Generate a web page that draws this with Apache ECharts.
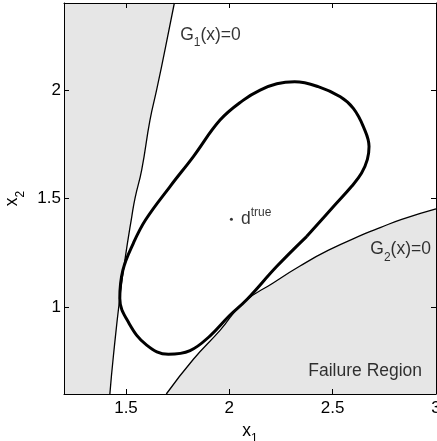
<!DOCTYPE html>
<html>
<head>
<meta charset="utf-8">
<title>Limit states and contour</title>
<script src="https://cdn.jsdelivr.net/npm/echarts@6/dist/echarts.min.js"></script>
<style>
  html, body { margin: 0; padding: 0; background: #fff; }
  #chart { width: 437px; height: 441px; }
</style>
</head>
<body>
<div id="chart"></div>
<script>
// axis ranges and tick positions
var xRange = [1.2, 3]
var yRange = [0.6, 2.4]
var xTicks = [1.5, 2, 2.5, 3]
var yTicks = [1, 1.5, 2]

// G1(x)=0, bottom to top
var g1Curve = [
  [1.422, 0.6], [1.439, 0.775], [1.471, 1.051], [1.495, 1.219],
  [1.528, 1.417], [1.544, 1.503], [1.576, 1.632], [1.616, 1.861],
  [1.649, 2.003], [1.692, 2.2], [1.734, 2.4]
]

// G2(x)=0, left to right
var g2Curve = [
  [1.695, 0.6], [1.826, 0.76], [1.955, 0.893], [2.07, 1.022],
  [2.21, 1.11], [2.34, 1.188], [2.48, 1.262], [2.656, 1.338],
  [2.73, 1.366], [2.834, 1.404], [3.0, 1.452]
]

// closed contour, clockwise
var contour = [
  [2.375, 1.326], [2.23, 1.188], [2.085, 1.035], [2.0, 0.96],
  [1.907, 0.868], [1.81, 0.8], [1.705, 0.783], [1.6, 0.825],
  [1.515, 0.925], [1.47, 1.04], [1.485, 1.17], [1.536, 1.295],
  [1.595, 1.402], [1.713, 1.555], [1.826, 1.693], [1.955, 1.861],
  [2.068, 1.953], [2.149, 1.999], [2.23, 2.028], [2.316, 2.037],
  [2.43, 2.015], [2.537, 1.968], [2.6, 1.915], [2.649, 1.83],
  [2.676, 1.739], [2.668, 1.68], [2.64, 1.617], [2.591, 1.555],
  [2.504, 1.463], [2.375, 1.326]
]

var dTrue = [2.01, 1.405]

// text annotations: x, y, text
var notes = [
  [1.762, 2.252, '{m|G}{s|1}{m|(x)=0}'],
  [2.682, 1.265, '{m|G}{s|2}{m|(x)=0}'],
  [2.382, 0.705, '{m|Failure Region}']
]

var font = 'Liberation Sans, Arial, Helvetica, sans-serif'
var fillGray = '#e6e6e6'

var rich = {
  m: { fontSize: 17.5, lineHeight: 28, color: '#000', fontFamily: font },
  s: { fontSize: 12, lineHeight: 12, verticalAlign: 'bottom', color: '#000', fontFamily: font },
  sup: { fontSize: 12, lineHeight: 12, verticalAlign: 'top', color: '#000', fontFamily: font },
  d: { fontSize: 17.5, lineHeight: 24, color: '#000', fontFamily: font }
}

// polygons for the shaded failure domains
var g1Area = g1Curve.concat([[xRange[0], yRange[1]], [xRange[0], yRange[0]]])
var g2Area = g2Curve.concat([[xRange[1], yRange[0]]])

function areaSeries (poly) {
  return {
    type: 'custom',
    z: 1,
    silent: true,
    data: [[xRange[0], yRange[0]]],
    renderItem: function (params, api) {
      return {
        type: 'polygon',
        shape: { points: poly.map(function (p) { return api.coord(p) }) },
        style: { fill: fillGray, stroke: null }
      }
    }
  }
}

function xAxisBase (pos) {
  return {
    type: 'value',
    position: pos,
    min: xRange[0],
    max: xRange[1],
    z: 10,
    splitLine: { show: false },
    axisLine: { onZero: false, lineStyle: { color: '#000', width: 1 } },
    axisTick: { inside: true, length: 5, customValues: xTicks, lineStyle: { color: '#000' } },
    axisLabel: { show: pos === 'bottom', customValues: xTicks, color: '#000', fontSize: 17, fontFamily: font, margin: 6 }
  }
}

function yAxisBase (pos) {
  return {
    type: 'value',
    position: pos,
    min: yRange[0],
    max: yRange[1],
    z: 10,
    splitLine: { show: false },
    axisLine: { onZero: false, lineStyle: { color: '#000', width: 1 } },
    axisTick: { inside: true, length: 5, customValues: yTicks, lineStyle: { color: '#000' } },
    axisLabel: { show: pos === 'left', customValues: yTicks, color: '#000', fontSize: 17, fontFamily: font, margin: 3 }
  }
}

var xBottom = xAxisBase('bottom')
xBottom.name = '{m|x}{s|1}'
xBottom.nameLocation = 'middle'
xBottom.nameGap = 19
xBottom.nameTextStyle = { rich: rich }

var yLeft = yAxisBase('left')
yLeft.name = '{m|x}{s|2}'
yLeft.nameLocation = 'middle'
yLeft.nameGap = 29
yLeft.nameTextStyle = { rich: rich }

var myChart = echarts.init(document.getElementById('chart'))
var option = {
  animation: false,
  backgroundColor: '#fff',
  grid: { left: 64, right: 1, top: 3, bottom: 47, containLabel: false, outerBoundsMode: 'none' },
  xAxis: [xBottom, xAxisBase('top')],
  yAxis: [yLeft, yAxisBase('right')],
  series: [
    areaSeries(g1Area),
    areaSeries(g2Area),
    {
      name: 'G1',
      type: 'line',
      data: g1Curve,
      smooth: true,
      symbol: 'none',
      z: 3,
      lineStyle: { color: '#000', width: 1.3 }
    },
    {
      name: 'G2',
      type: 'line',
      data: g2Curve,
      smooth: true,
      symbol: 'none',
      z: 3,
      lineStyle: { color: '#000', width: 1.3 }
    },
    {
      name: 'contour',
      type: 'line',
      data: contour,
      smooth: 0.4,
      symbol: 'none',
      z: 4,
      lineStyle: { color: '#000', width: 3 }
    },
    {
      name: 'dtrue',
      type: 'scatter',
      data: [dTrue],
      symbol: 'circle',
      symbolSize: 3,
      z: 5,
      itemStyle: { color: '#000' },
      label: {
        show: true,
        position: 'right',
        distance: 8,
        formatter: '{d|d}{sup|true}',
        rich: rich
      }
    },
    {
      name: 'notes',
      type: 'scatter',
      data: notes,
      symbolSize: 0,
      z: 5,
      label: {
        show: true,
        position: 'right',
        distance: 0,
        formatter: function (p) { return p.data[2] },
        rich: rich
      }
    }
  ]
}
myChart.setOption(option)
window.addEventListener('resize', function () {
  myChart.resize()
})
</script>
</body>
</html>
